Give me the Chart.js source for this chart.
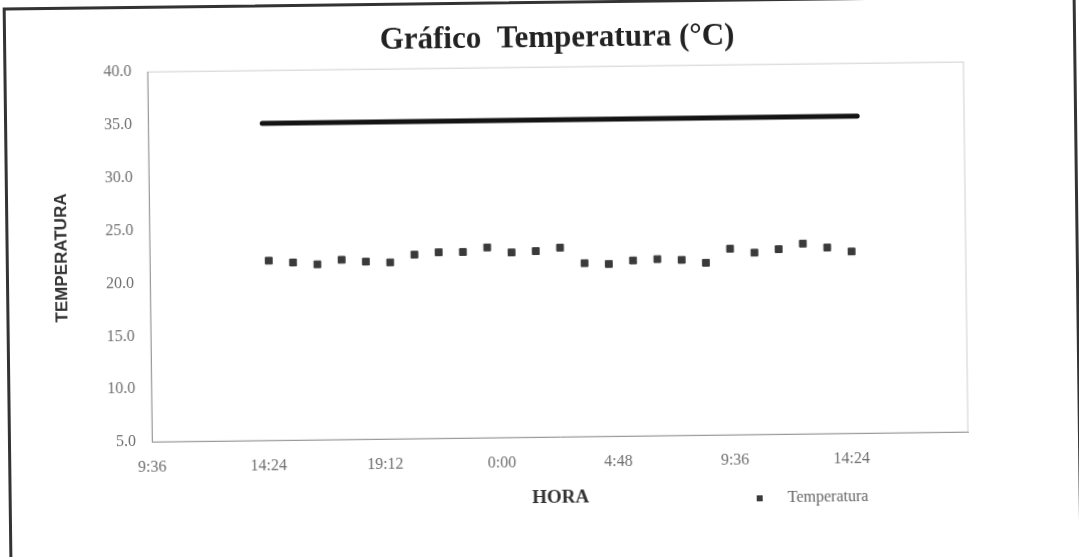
<!DOCTYPE html>
<html lang="pt">
<head>
<meta charset="utf-8">
<title>Gráfico Temperatura</title>
<script src="https://cdn.jsdelivr.net/npm/chart.js@4.4.1/dist/chart.umd.min.js"></script>
<style>
  html, body { margin: 0; background: #fff; overflow: hidden; }
  #folha { position: relative; width: 1079px; height: 557px; transform: rotate(-0.7deg); transform-origin: 540px 278px; }
  #moldura { position: absolute; left: 6px; top: 1px; width: 1067px; height: 700px; border: 3px solid #333; }
  #grafico { position: absolute; left: 0; top: 0; }
</style>
</head>
<body>
<div id="folha">
  <div id="moldura"></div>
  <div id="grafico"><canvas id="chart" width="1120" height="557"></canvas></div>
</div>
<script>
// leituras de hora em hora
const horas = ['14:30', '15:30', '16:30', '17:30', '18:30', '19:30', '20:30', '21:30', '22:30', '23:30',
  '0:30', '1:30', '2:30', '3:30', '4:30', '5:30', '6:30', '7:30', '8:30', '9:30',
  '10:30', '11:30', '12:30', '13:30', '14:30'];
const temperatura = [22.0, 21.8, 21.6, 22.0, 21.8, 21.7, 22.4, 22.6, 22.6, 23.0,
  22.5, 22.6, 22.9, 21.4, 21.3, 21.6, 21.7, 21.6, 21.3, 22.6,
  22.2, 22.5, 23.0, 22.6, 22.2];

// linha de referência
const limiteHoras = ['14:18', '0:00', '14:48'];
const limite = [35.0, 35.0, 35.0];

const yTicks = { min: 5, max: 40, passo: 5 };
const xTicks = { min: 9.6, max: 43.2, passo: 4.8 }; // horas, 9:36 até 19:12 do dia seguinte

// "h:mm" -> horas corridas, virando o dia quando a hora volta
function emHoras(lista) {
  let ant = -Infinity;
  return lista.map(s => {
    const [h, m] = s.split(':').map(Number);
    let t = h + m / 60;
    while (t <= ant) t += 24;
    ant = t;
    return t;
  });
}

function fmtHora(v) {
  const min = Math.round(v * 60) % (24 * 60);
  return Math.floor(min / 60) + ':' + String(min % 60).padStart(2, '0');
}

const xs = emHoras(horas);
const xl = emHoras(limiteHoras);

const moldura = {
  id: 'moldura',
  beforeDraw(chart) {
    const { ctx, chartArea: a } = chart;
    ctx.save();
    ctx.strokeStyle = '#cfcfcf';
    ctx.lineWidth = 1;
    ctx.strokeRect(a.left, a.top, a.right - a.left, a.bottom - a.top);
    ctx.restore();
  }
};

const legenda = {
  id: 'legenda',
  afterDraw(chart) {
    const { ctx, chartArea: a } = chart;
    const ds = chart.data.datasets[0];
    const x = a.left + 607, y = a.bottom + 64;
    ctx.save();
    ctx.fillStyle = ds.backgroundColor;
    ctx.fillRect(x - 3, y - 3, 6, 6);
    ctx.fillStyle = '#666';
    ctx.font = '16px "Liberation Serif"';
    ctx.textBaseline = 'middle';
    ctx.fillText(ds.label, x + 28, y);
    ctx.restore();
  }
};

new Chart(document.getElementById('chart'), {
  type: 'scatter',
  data: {
    datasets: [{
      label: 'Temperatura',
      data: xs.map((x, i) => ({ x, y: temperatura[i] })),
      backgroundColor: '#3a3a3a',
      borderColor: '#3a3a3a',
      borderWidth: 1,
      pointStyle: 'rect',
      pointRadius: 4.8
    }, {
      type: 'line',
      label: 'Limite',
      data: xl.map((x, i) => ({ x, y: limite[i] })),
      borderColor: '#141414',
      borderWidth: 5,
      borderCapStyle: 'round',
      pointRadius: 0,
      fill: false
    }]
  },
  options: {
    responsive: false,
    animation: false,
    layout: { padding: { left: 0, right: 0, top: 0, bottom: 45 } },
    plugins: {
      legend: { display: false },
      tooltip: { enabled: false },
      title: {
        display: true,
        text: 'Gráfico  Temperatura (°C)',
        color: '#222',
        font: { family: 'Liberation Serif', size: 31, weight: 'bold' },
        padding: { top: 20, bottom: 10 }
      }
    },
    scales: {
      x: {
        type: 'linear',
        min: xTicks.min,
        max: xTicks.max,
        ticks: {
          stepSize: xTicks.passo,
          padding: 16,
          maxRotation: 0,
          autoSkip: false,
          color: '#6e6e6e',
          font: { family: 'Liberation Serif', size: 16 },
          callback: v => v > 40 ? '' : fmtHora(v)
        },
        grid: { display: false, drawTicks: false },
        border: { display: true, color: '#9a9a9a', width: 1 },
        title: {
          display: true,
          text: 'HORA',
          color: '#333',
          font: { family: 'Liberation Serif', size: 19, weight: 'bold' },
          padding: { top: 0, bottom: 3 }
        },
        afterFit: s => { s.height = 75; }
      },
      y: {
        min: yTicks.min,
        max: yTicks.max,
        ticks: {
          stepSize: yTicks.passo,
          padding: 16,
          color: '#6e6e6e',
          font: { family: 'Liberation Serif', size: 16 },
          callback: v => v.toFixed(1)
        },
        grid: { display: false, drawTicks: false },
        border: { display: true, color: '#9a9a9a', width: 1 },
        title: {
          display: true,
          text: 'TEMPERATURA',
          color: '#333',
          font: { family: 'Liberation Sans', size: 17, weight: 'bold' },
          padding: { top: 52, bottom: 0 }
        },
        afterFit: s => { s.width = 150; }
      },
      // espaço vazio à direita da área do gráfico
      yDir: {
        position: 'right',
        grid: { display: false },
        border: { display: false },
        ticks: { display: false },
        afterFit: s => { s.width = 154; }
      }
    }
  },
  plugins: [moldura, legenda]
});
</script>
</body>
</html>
